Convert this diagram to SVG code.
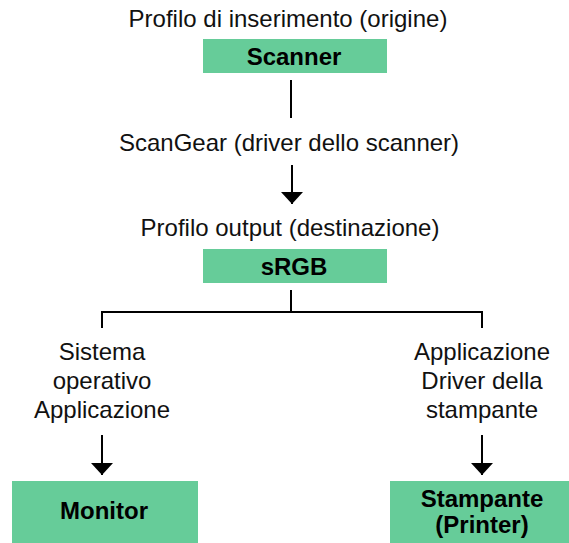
<svg xmlns="http://www.w3.org/2000/svg" width="569" height="543" viewBox="0 0 569 543">
<style>
.t{font-family:"Liberation Sans",Arial,sans-serif;font-size:24px;fill:#111;text-anchor:middle}
.b{font-family:"Liberation Sans",Arial,sans-serif;font-size:24px;font-weight:bold;fill:#000;text-anchor:middle}
.box{fill:#66CC99}
.ln{stroke:#000;stroke-width:2;fill:none}
</style>
<defs>
<marker id="ah" markerWidth="12" markerHeight="22" refX="12" refY="11" orient="auto" markerUnits="userSpaceOnUse" viewBox="0 0 12 22">
<path d="M0,0 L12,11 L0,22 Z" fill="#000"/>
</marker>
</defs>
<rect width="569" height="543" fill="#fff"/>
<g id="scanner">
<text class="t" x="288" y="27">Profilo di inserimento (origine)</text>
<rect class="box" x="203" y="39" width="184" height="34"/>
<text class="b" x="294" y="65">Scanner</text>
</g>
<g id="scangear">
<text class="t" x="289" y="151">ScanGear (driver dello scanner)</text>
</g>
<g id="srgb">
<text class="t" x="290" y="236">Profilo output (destinazione)</text>
<rect class="box" x="203" y="249" width="184" height="34"/>
<text class="b" x="294" y="275">sRGB</text>
</g>
<g id="os">
<text class="t" x="102" y="360">Sistema</text>
<text class="t" x="102" y="389">operativo</text>
<text class="t" x="102" y="418">Applicazione</text>
</g>
<g id="driver">
<text class="t" x="482" y="360">Applicazione</text>
<text class="t" x="482" y="389">Driver della</text>
<text class="t" x="482" y="418">stampante</text>
</g>
<g id="monitor">
<rect class="box" x="12" y="481" width="186" height="62"/>
<text class="b" x="104" y="519">Monitor</text>
</g>
<g id="printer">
<rect class="box" x="390" y="481" width="179" height="62"/>
<text class="b" x="482" y="507">Stampante</text>
<text class="b" x="482" y="533">(Printer)</text>
</g>
<g id="connectors">
<line class="ln" x1="291" y1="80" x2="291" y2="118"/>
<line class="ln" x1="292" y1="165" x2="292" y2="204" marker-end="url(#ah)"/>
<polyline class="ln" points="291,290 291,312"/>
<polyline class="ln" points="102,328 102,312 482,312 482,328"/>
<line class="ln" x1="102" y1="435" x2="102" y2="475" marker-end="url(#ah)"/>
<line class="ln" x1="482" y1="435" x2="482" y2="475" marker-end="url(#ah)"/>
</g>
</svg>
